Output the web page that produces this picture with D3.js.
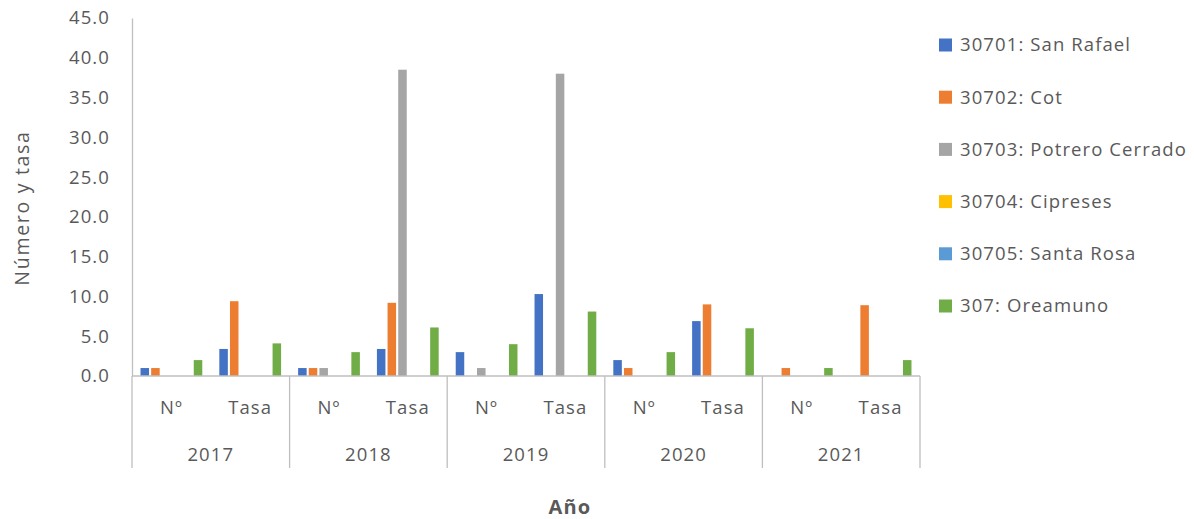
<!DOCTYPE html>
<html><head><meta charset="utf-8">
<script src="https://cdn.jsdelivr.net/npm/d3@7"></script>
<style>body{margin:0;background:#fff}svg{display:block}text{font-family:"Open Sans",sans-serif;fill:#595959}</style>
</head><body><svg id="c" width="1194" height="519"></svg>
<script>
const years = ["2017","2018","2019","2020","2021"];
const measures = ["Nº","Tasa"];
const seriesNames = ["30701: San Rafael","30702: Cot","30703: Potrero Cerrado","30704: Cipreses","30705: Santa Rosa","307: Oreamuno"];
const seriesColors = ["#4472C4","#ED7D31","#A5A5A5","#FFC000","#5B9BD5","#70AD47"];
// values in order: 2017 Nº, 2017 Tasa, 2018 Nº, 2018 Tasa, ... 2021 Tasa
const sanRafael = [1,3.4,1,3.4,3,10.3,2,6.9,0,0];
const cot = [1,9.4,1,9.2,0,0,1,9.0,1,8.9];
const potreroCerrado = [0,0,1,38.5,1,38.0,0,0,0,0];
const cipreses = [0,0,0,0,0,0,0,0,0,0];
const santaRosa = [0,0,0,0,0,0,0,0,0,0];
const oreamuno = [2,4.1,3,6.1,4,8.1,3,6.0,1,2];
const yTicks = [0,5,10,15,20,25,30,35,40,45];

(function(){
const seriesData = [sanRafael,cot,potreroCerrado,cipreses,santaRosa,oreamuno];
const cats = [];
years.forEach(y=>measures.forEach(m=>cats.push(y+"|"+m)));

const FS = 18.5, LS = "1.1px";
const svg = d3.select("#c");
const pl=132, pr=920, pt=18, pb=376;
const x0 = d3.scaleBand().domain(cats).range([pl,pr]).padding(0);
const x1 = d3.scaleBand().domain(d3.range(6)).range([0,x0.bandwidth()]).paddingInner(0.2).paddingOuter(0.8);
const y = d3.scaleLinear().domain([0,45]).range([pb,pt]);

const yAxis = svg.append("g").attr("transform",`translate(${pl},0)`)
  .call(d3.axisLeft(y).tickValues(yTicks).tickFormat(d3.format(".1f")).tickSize(0).tickPadding(22));
yAxis.select(".domain").attr("stroke","#bfbfbf").attr("stroke-width",1.3);
yAxis.selectAll("text").attr("font-size",FS).style("letter-spacing",LS).attr("fill","#595959").attr("font-family","Open Sans");

cats.forEach((c,ci)=>{
  seriesData.forEach((arr,si)=>{
    const v = arr[ci];
    if(!v) return;
    svg.append("rect")
      .attr("x",x0(c)+x1(si)).attr("width",x1.bandwidth())
      .attr("y",y(v)).attr("height",y(0)-y(v))
      .attr("fill",seriesColors[si]);
  });
});

svg.append("line").attr("x1",pl).attr("x2",pr).attr("y1",pb).attr("y2",pb).attr("stroke","#bfbfbf").attr("stroke-width",1.3);
const yearScale = d3.scaleBand().domain(years).range([pl,pr]);
const dividers = years.map(yy=>yearScale(yy)).concat([pr]);
svg.selectAll(".div").data(dividers).enter().append("line")
  .attr("x1",d=>d).attr("x2",d=>d).attr("y1",pb).attr("y2",468)
  .attr("stroke","#bfbfbf").attr("stroke-width",1.3);
cats.forEach(c=>{
  svg.append("text").attr("x",x0(c)+x0.bandwidth()/2).attr("y",408).attr("dy","0.35em")
    .attr("text-anchor","middle").attr("font-size",FS).style("letter-spacing",LS).text(c.split("|")[1]);
});
years.forEach(yy=>{
  svg.append("text").attr("x",yearScale(yy)+yearScale.bandwidth()/2).attr("y",455).attr("dy","0.35em")
    .attr("text-anchor","middle").attr("font-size",FS).style("letter-spacing",LS).text(yy);
});
svg.append("text").attr("transform","translate(22,208) rotate(-90)").attr("text-anchor","middle").attr("dy","0.35em")
  .attr("font-size",19.5).style("letter-spacing","1.7px").text("Número y tasa");
svg.append("text").attr("x",570).attr("y",507).attr("dy","0.35em").attr("text-anchor","middle")
  .attr("font-size",20).attr("font-weight","bold").style("letter-spacing","1.2px").text("Año");

const lg = svg.append("g");
seriesNames.forEach((n,i)=>{
  const cy = 45 + i*52.2;
  lg.append("rect").attr("x",939).attr("y",cy-6.5).attr("width",13).attr("height",13).attr("fill",seriesColors[i]);
  lg.append("text").attr("x",960).attr("y",cy).attr("dy","0.35em").attr("font-size",FS).style("letter-spacing",LS).text(n);
});
})();
</script></body></html>
